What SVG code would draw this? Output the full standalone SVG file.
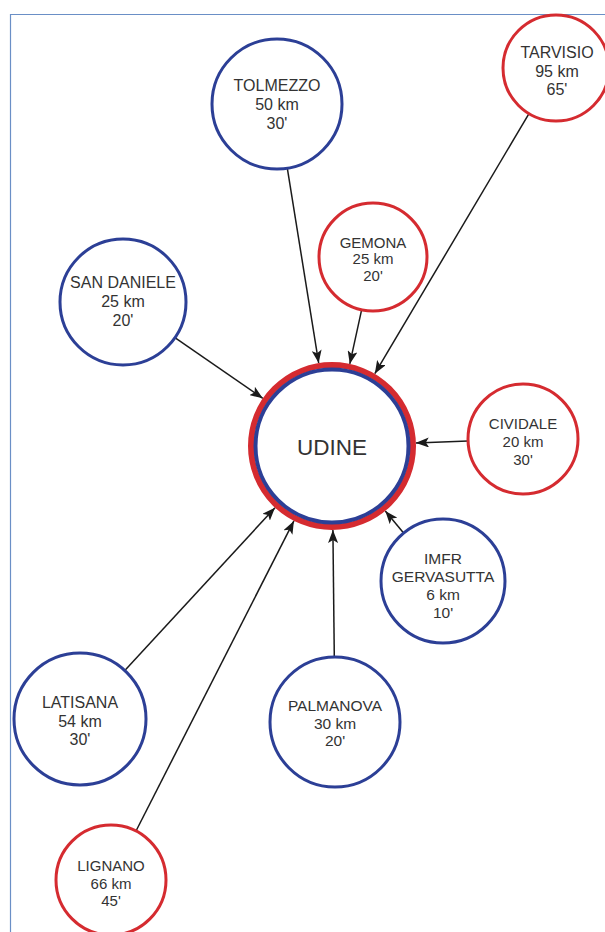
<svg xmlns="http://www.w3.org/2000/svg" width="605" height="932" viewBox="0 0 605 932">
<style>
.bg{fill:#ffffff}
.frame{fill:none;stroke:#6a8fc6;stroke-width:1.2}
.nb{fill:#ffffff;stroke:#2c3f96;stroke-width:3}
.nr{fill:#ffffff;stroke:#d52b30;stroke-width:3}
.t{font-family:"Liberation Sans",Arial,sans-serif;fill:#333333;text-anchor:middle}
.c line{stroke:#1a1a1a;stroke-width:1.5;marker-end:url(#ah)}
</style>
<defs>
<marker id="ah" markerUnits="userSpaceOnUse" markerWidth="13" markerHeight="10" refX="13" refY="5" orient="auto">
<path d="M0,0 L13,5 L0,10 L3,5 z" fill="#1a1a1a"/>
</marker>
</defs>
<rect class="bg" x="0" y="0" width="605" height="932"/>
<path class="frame" d="M10.5,932 V14.5 H605"/>
<g class="c" id="connectors">
<line x1="287.3" y1="168.2" x2="318.7" y2="363.1"/>
<line x1="361.6" y1="309.8" x2="349.8" y2="363.9"/>
<line x1="529" y1="113.6" x2="374.8" y2="373.7"/>
<line x1="174.9" y1="337.7" x2="262.8" y2="398.3"/>
<line x1="468" y1="441" x2="415.9" y2="442.9"/>
<line x1="403.6" y1="533.1" x2="385.3" y2="510.9"/>
<line x1="334.3" y1="657" x2="332.9" y2="530"/>
<line x1="124.8" y1="670.5" x2="275" y2="507.7"/>
<line x1="136" y1="831" x2="293.9" y2="520.9"/>
</g>
<g id="udine">
<circle cx="332" cy="446" r="81" fill="#ffffff" stroke="#d52b30" stroke-width="6"/>
<circle cx="332" cy="446" r="76.5" fill="none" stroke="#2c3f96" stroke-width="4"/>
<text class="t" x="332" y="455" font-size="22.5">UDINE</text>
</g>
<g id="tolmezzo">
<circle class="nb" cx="277" cy="104" r="65"/>
<text class="t" font-size="16" x="277" y="91">TOLMEZZO<tspan x="277" dy="19">50 km</tspan><tspan x="277" dy="19">30'</tspan></text>
</g>
<g id="tarvisio">
<circle class="nr" cx="556" cy="68" r="53"/>
<text class="t" font-size="16" x="557" y="58">TARVISIO<tspan x="557" dy="19">95 km</tspan><tspan x="557" dy="18">65'</tspan></text>
</g>
<g id="gemona">
<circle class="nr" cx="373" cy="257" r="54"/>
<text class="t" font-size="15" x="373" y="247.5">GEMONA<tspan x="373" dy="16.5">25 km</tspan><tspan x="373" dy="16.5">20'</tspan></text>
</g>
<g id="san-daniele">
<circle class="nb" cx="123" cy="302" r="63"/>
<text class="t" font-size="16" x="123" y="288">SAN DANIELE<tspan x="123" dy="19">25 km</tspan><tspan x="123" dy="19">20'</tspan></text>
</g>
<g id="cividale">
<circle class="nr" cx="523" cy="439" r="55"/>
<text class="t" font-size="15" x="523" y="428.5">CIVIDALE<tspan x="523" dy="18">20 km</tspan><tspan x="523" dy="18">30'</tspan></text>
</g>
<g id="imfr-gervasutta">
<circle class="nb" cx="443" cy="581" r="62"/>
<text class="t" font-size="15.5" x="443" y="563.5">IMFR<tspan x="443" dy="18.5">GERVASUTTA</tspan><tspan x="443" dy="18">6 km</tspan><tspan x="443" dy="17.5">10'</tspan></text>
</g>
<g id="palmanova">
<circle class="nb" cx="335" cy="722" r="65"/>
<text class="t" font-size="15.5" x="335" y="710.5">PALMANOVA<tspan x="335" dy="18">30 km</tspan><tspan x="335" dy="17.5">20'</tspan></text>
</g>
<g id="latisana">
<circle class="nb" cx="80" cy="719" r="66"/>
<text class="t" font-size="16" x="80" y="707.5">LATISANA<tspan x="80" dy="19">54 km</tspan><tspan x="80" dy="18">30'</tspan></text>
</g>
<g id="lignano">
<circle class="nr" cx="111" cy="880" r="55"/>
<text class="t" font-size="15" x="111" y="870.5">LIGNANO<tspan x="111" dy="18">66 km</tspan><tspan x="111" dy="17">45'</tspan></text>
</g>
</svg>
